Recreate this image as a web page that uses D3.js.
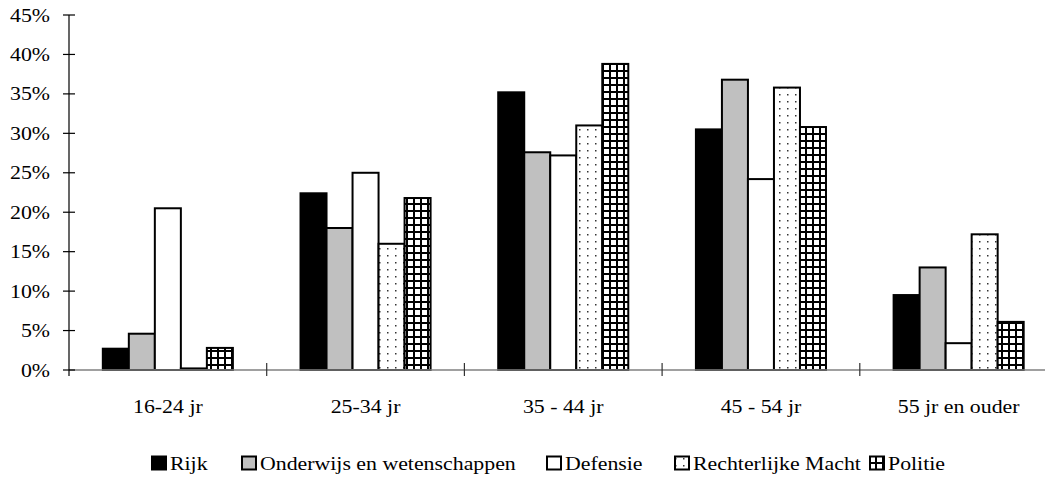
<!DOCTYPE html>
<html><head><meta charset="utf-8">
<script src="https://cdn.jsdelivr.net/npm/d3@7"></script>
<style>body{margin:0;background:#fff}svg{display:block}</style>
</head><body><div id="chart"></div>
<script>
const categories = ["16-24 jr","25-34 jr","35 - 44 jr","45 - 54 jr","55 jr en ouder"];
const seriesNames = ["Rijk","Onderwijs en wetenschappen","Defensie","Rechterlijke Macht","Politie"];
const rijk = [2.7, 22.4, 35.2, 30.5, 9.5];
const onderwijs = [4.6, 18.0, 27.6, 36.8, 13.0];
const defensie = [20.5, 25.0, 27.2, 24.2, 3.4];
const rechterlijk = [0.2, 16.0, 31.0, 35.8, 17.2];
const politie = [2.8, 21.8, 38.8, 30.8, 6.1];
const yTicks = [0,5,10,15,20,25,30,35,40,45];
const seriesValues = [rijk, onderwijs, defensie, rechterlijk, politie];

const W = 1045, H = 477;
const fs = 19.5, sx = 1.12;
const FONT = "'Liberation Serif', 'DejaVu Serif', 'Times New Roman', Times, serif";
const svg = d3.select("#chart").append("svg").attr("width", W).attr("height", H);
const defs = svg.append("defs");
const dots = defs.append("pattern").attr("id","dots").attr("patternUnits","userSpaceOnUse").attr("width",8).attr("height",7);
dots.append("rect").attr("width",8).attr("height",7).attr("fill","#fff");
dots.append("rect").attr("x",3).attr("y",3).attr("width",1.5).attr("height",1.5).attr("fill","#333");
const grid = defs.append("pattern").attr("id","grid").attr("patternUnits","userSpaceOnUse").attr("width",7).attr("height",7);
grid.append("rect").attr("width",7).attr("height",7).attr("fill","#fff");
grid.append("rect").attr("x",0).attr("y",0).attr("width",7).attr("height",2).attr("fill","#000");
grid.append("rect").attr("x",0).attr("y",0).attr("width",2).attr("height",7).attr("fill","#000");

const fills = ["#000","#c0c0c0","#fff","url(#dots)","url(#grid)"];

const x0 = 69, catW = 197.7;
const x = d3.scaleBand().domain(categories).range([x0, x0 + catW*categories.length]).paddingInner(0).paddingOuter(0);
const xs = d3.scaleBand().domain(seriesNames).range([0, x.bandwidth()]).paddingInner(0).paddingOuter(1.3);
const y = d3.scaleLinear().domain([0,45]).range([370,15]);

function stext(g, tx, ty, str, anchor){
  g.append("text").attr("transform",`translate(${tx},${ty}) scale(${sx},1)`)
    .attr("text-anchor",anchor).attr("font-size",fs).attr("font-family",FONT).attr("fill","#000").text(str);
}

// bars
seriesNames.forEach((s, si) => {
  svg.append("g").selectAll("rect").data(categories).join("rect")
    .attr("x", c => x(c) + xs(s))
    .attr("y", (c,i) => y(seriesValues[si][i]))
    .attr("width", xs.bandwidth())
    .attr("height", (c,i) => y(0) - y(seriesValues[si][i]))
    .attr("fill", fills[si])
    .attr("stroke", "#000").attr("stroke-width", 2);
});

// x axis
svg.append("line").attr("x1",x0).attr("x2",W).attr("y1",y(0)).attr("y2",y(0)).attr("stroke","#808080").attr("stroke-width",1.5);
const xb = categories.slice(1).map(c => x(c));
svg.append("g").selectAll("line").data(xb).join("line")
  .attr("x1",d=>d).attr("x2",d=>d).attr("y1",363).attr("y2",376).attr("stroke","#333").attr("stroke-width",1.2);
const xl = svg.append("g");
categories.forEach(c => stext(xl, x(c)+x.bandwidth()/2, 413, c, "middle"));

// y axis
svg.append("line").attr("x1",x0).attr("x2",x0).attr("y1",y(45)).attr("y2",y(0)+6).attr("stroke","#000").attr("stroke-width",1.2);
svg.append("g").selectAll("line").data(yTicks).join("line")
  .attr("x1",63).attr("x2",75).attr("y1",d=>y(d)).attr("y2",d=>y(d)).attr("stroke","#000").attr("stroke-width",1.2);
const yl = svg.append("g");
yTicks.forEach(t => stext(yl, 50, y(t)+6.5, t+"%", "end"));

// legend
const legX = [152, 242, 547, 675, 870];
const leg = svg.append("g");
seriesNames.forEach((s,i) => {
  leg.append("rect").attr("x",legX[i]).attr("y",456.5).attr("width",14).attr("height",13)
    .attr("fill",fills[i]).attr("stroke","#000").attr("stroke-width",2);
  stext(leg, legX[i]+18, 470, s, "start");
});
</script></body></html>
